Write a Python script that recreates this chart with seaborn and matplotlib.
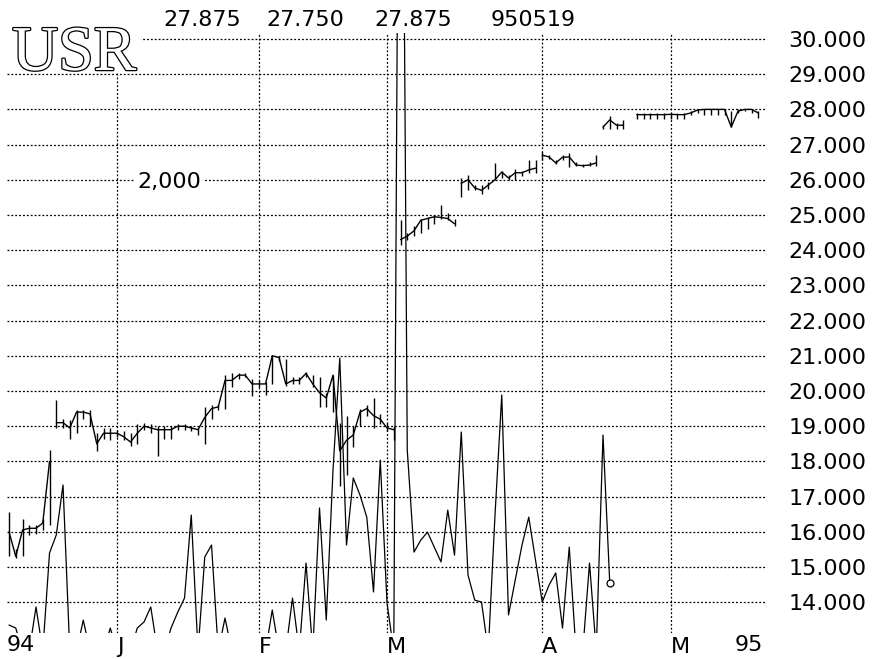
import numpy as np
import pandas as pd
import matplotlib.pyplot as plt
import matplotlib.patheffects as pe
from matplotlib.patches import Rectangle
import seaborn as sns

# daily close / high / low (trading-day index 0..111), None = no quote
closes = [16.00, 15.30, 16.05, 16.10, 16.10, 16.25, 18.00,
          19.10, 19.10, 18.95, 19.40, 19.40, 19.35, 18.50, 18.80, 18.80, 18.80,
          18.70, 18.55, 18.80, 19.00, 18.95, 18.90, 18.90, 18.90, 19.00, 19.00,
          18.95, 18.90, 19.25, 19.50, 19.55, 20.30, 20.30, 20.45, 20.45, 20.20,
          20.20, 20.20, 21.00, 20.95, 20.20, 20.30, 20.30, 20.50, 20.20, 19.95,
          19.80, 20.45, 18.30, 18.60, 18.75, 19.40, 19.50, 19.30, 19.20, 18.95,
          18.90,
          24.30, 24.40, 24.55, 24.85, 24.90, 24.95, 24.93, 24.90, 24.75,
          25.90, 26.00, 25.77, 25.70, 25.85, 26.00, 26.22, 26.05, 26.20, 26.20,
          26.28, 26.33,
          26.70, 26.65, 26.48, 26.64, 26.65, 26.42, 26.40, 26.42, 26.48,
          27.50, 27.70, 27.55, 27.55, None,
          27.85, 27.85, 27.85, 27.85, 27.85, 27.86, 27.85, 27.85, 27.90, 27.98,
          28.00, 28.00, 28.00, 28.00, 27.50, 27.95, 28.00, 28.00, 27.90]
highs = [16.55, 15.50, 16.35, 16.20, 16.20, 16.35, 18.32,
         19.74, 19.20, 19.17, 19.45, 19.45, 19.45, 18.80, 18.95, 18.95, 18.90,
         18.85, 18.80, 19.05, 19.10, 19.05, 19.00, 19.00, 19.00, 19.05, 19.05,
         19.00, 18.95, 19.55, 19.60, 19.60, 20.45, 20.50, 20.50, 20.50, 20.35,
         20.30, 20.25, 21.00, 21.00, 20.90, 20.40, 20.40, 20.55, 20.45, 20.40,
         19.95, 20.45, 19.10, 19.30, 19.00, 19.50, 19.60, 19.80, 19.35, 19.10,
         19.00,
         24.85, 24.50, 24.70, 24.90, 24.95, 25.00, 25.28, 25.05, 24.90,
         26.05, 26.15, 25.85, 25.85, 25.95, 26.48, 26.25, 26.15, 26.30, 26.25,
         26.55, 26.55,
         26.80, 26.70, 26.55, 26.70, 26.75, 26.50, 26.45, 26.50, 26.70,
         27.55, 27.80, 27.60, 27.70, None,
         27.90, 27.90, 27.90, 27.90, 27.90, 27.90, 27.90, 27.90, 27.95, 28.00,
         28.02, 28.02, 28.02, 28.02, 27.95, 28.00, 28.02, 28.02, 27.95]
lows = [15.30, 15.25, 15.30, 15.90, 15.95, 16.05, 16.20,
        18.95, 18.95, 18.65, 18.80, 19.20, 19.00, 18.30, 18.65, 18.60, 18.70,
        18.60, 18.45, 18.50, 18.90, 18.80, 18.15, 18.65, 18.65, 18.90, 18.90,
        18.85, 18.75, 18.50, 19.20, 19.45, 19.50, 20.10, 20.35, 20.40, 19.85,
        20.10, 19.90, 20.20, 20.85, 20.15, 20.20, 20.20, 20.40, 20.10, 19.55,
        19.55, 19.40, 17.30, 17.60, 18.40, 19.00, 19.30, 18.95, 19.05, 18.85,
        18.60,
        24.15, 24.30, 24.40, 24.50, 24.60, 24.75, 24.90, 24.85, 24.70,
        25.50, 25.70, 25.70, 25.60, 25.75, 26.00, 26.05, 26.00, 26.00, 26.10,
        26.20, 26.20,
        26.55, 26.60, 26.45, 26.55, 26.35, 26.38, 26.35, 26.38, 26.40,
        27.45, 27.45, 27.45, 27.45, None,
        27.72, 27.72, 27.72, 27.72, 27.72, 27.72, 27.72, 27.72, 27.85, 27.90,
        27.85, 27.85, 27.85, 27.85, 27.50, 27.90, 27.95, 27.90, 27.75]
# close line is broken between these runs of days
segment_starts = [0, 7, 58, 67, 79, 88, 93]

# daily volume (index 0..89)
volume = [111, 98, 0, 0, 188, 0, 418, 495, 708, 0,
          0, 132, 0, 0, 0, 98, 0, 0, 0, 98,
          124, 188, 0, 0, 98, 166, 226, 580, 0, 401,
          452, 0, 141, 0, 0, 0, 0, 0, 0, 175,
          0, 0, 226, 0, 375, 0, 610, 132, 772, 1249,
          452, 738, 665, 571, 252, 814, 205, 0, 5200, 857,
          422, 473, 507, 443, 380, 601, 409, 934, 324, 217,
          209, 0, 580, 1092, 154, 303, 452, 571, 388, 209,
          281, 333, 98, 443, 0, 0, 375, 0, 921, 290]

month_pos = [16, 37, 56, 79, 98]
month_lab = ['J', 'F', 'M', 'A', 'M']
price_ticks = list(range(14, 31))
top_labels = ['27.875', '27.750', '27.875', '950519']
top_label_x = [202, 305, 413, 533]

days = np.arange(len(closes))
price = pd.DataFrame({'day': days,
                      'close': pd.to_numeric(pd.Series(closes), errors='coerce'),
                      'high': pd.to_numeric(pd.Series(highs), errors='coerce'),
                      'low': pd.to_numeric(pd.Series(lows), errors='coerce')})
vol = pd.DataFrame({'day': np.arange(len(volume)), 'volume': volume})

sns.set_theme(style='white')
plt.rcParams['font.family'] = ['DejaVu Sans']
plt.rcParams['text.color'] = 'black'

W, H = 878, 659
fig = plt.figure(figsize=(W / 100, H / 100), dpi=100)
ax = fig.add_axes([7 / W, 26 / H, 758 / W, 600 / H])
ax2 = ax.twinx()   # volume scale, made first so the price axis can keep the right side
ax.set_xlim(-0.3, 112.0)
ax.set_ylim(13.125, 30.17)

# grid
dots = (0, (1.5, 1.6))
ax.set_yticks(price_ticks, ['%.3f' % t for t in price_ticks])
ax.set_xticks(month_pos, month_lab)
ax.grid(True, color='black', linestyle=dots, linewidth=0.9)
ax.set_axisbelow(True)
ax.yaxis.tick_right()
ax.tick_params(axis='y', length=0, pad=17, labelsize=16, labelcolor='black',
               labelright=True, labelleft=False)
ax.tick_params(axis='x', length=0, pad=3, labelsize=16, labelcolor='black')
for t in ax.get_xticklabels():
    t.set_ha('left')
for s in ax.spines.values():
    s.set_visible(False)

# price: high-low bars plus close line
ax.vlines(price['day'], price['low'], price['high'], color='black', lw=1.0)
bounds = segment_starts + [len(price)]
for a, b in zip(bounds[:-1], bounds[1:]):
    seg = price.iloc[a:b].dropna()
    sns.lineplot(data=seg, x='day', y='close', ax=ax, color='black', lw=1.0,
                 estimator=None, sort=False)
ax.set_xlabel('')
ax.set_ylabel('')

# volume on its own scale
ax2.set_ylim(77, 2635)
sns.lineplot(data=vol, x='day', y='volume', ax=ax2, color='black', lw=0.9,
             estimator=None, sort=False)
ax2.plot(vol['day'].iloc[-1], vol['volume'].iloc[-1], 'o', mfc='white',
         mec='black', ms=5, mew=0.9)
ax2.set_yticks([])
ax2.set_ylabel('')
ax2.set_xlabel('')
for s in ax2.spines.values():
    s.set_visible(False)
ax2.text(23.8, 2000, '2,000', ha='center', va='center', fontsize=16,
         bbox=dict(fc='white', ec='none', pad=2))

# texts round the chart
fig.text(7 / W, 1 - 645 / H, '94', ha='left', va='center', fontsize=16)
fig.text(763 / W, 1 - 645 / H, '95', ha='right', va='center', fontsize=16)
for lab, xp in zip(top_labels, top_label_x):
    fig.text(xp / W, 1 - 20 / H, lab, ha='center', va='center', fontsize=16)

fig.add_artist(Rectangle((7 / W, 1 - 73 / H), 134 / W, 40 / H,
                         transform=fig.transFigure, fc='white', ec='none',
                         zorder=5))
fig.text(12 / W, 1 - 70 / H, 'USR', ha='left', va='baseline', fontsize=46,
         family='Liberation Serif', color='white', zorder=6,
         path_effects=[pe.withStroke(linewidth=1.8, foreground='black')])

fig.savefig('out.png', dpi=100)
